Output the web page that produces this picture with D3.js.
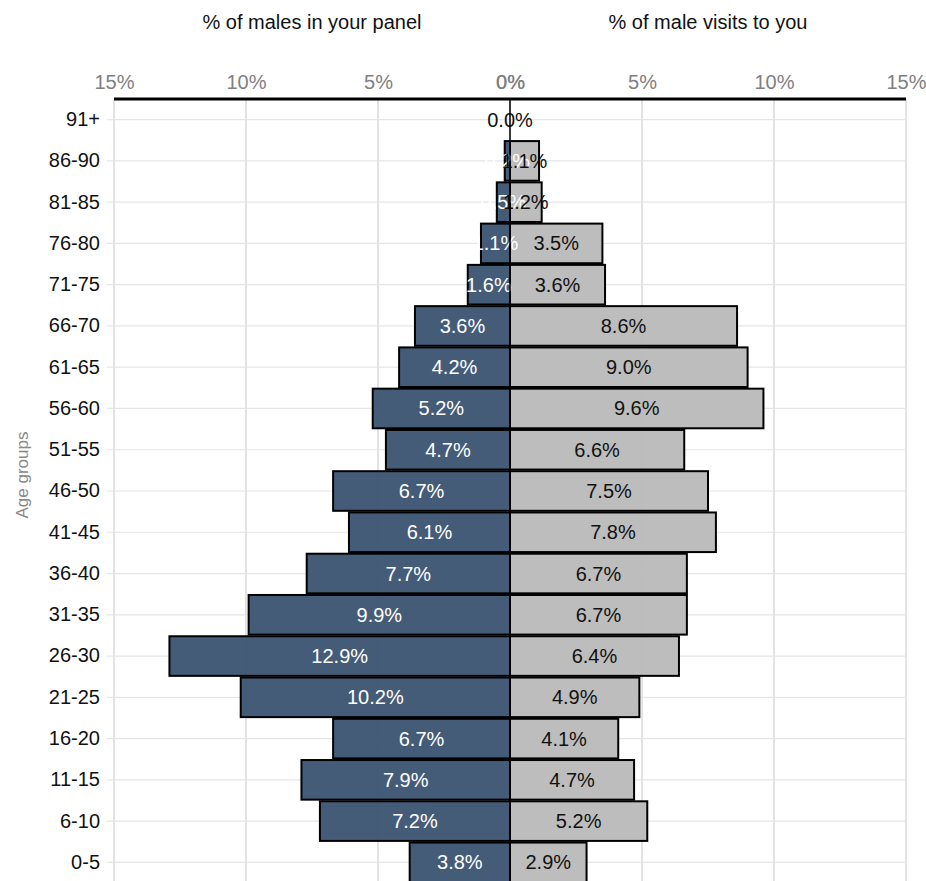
<!DOCTYPE html>
<html>
<head>
<meta charset="utf-8">
<script src="https://cdn.jsdelivr.net/npm/d3@7"></script>
<style>
  html, body { margin: 0; padding: 0; background: #fff; overflow: hidden; }
  svg { display: block; font-family: "Liberation Sans", Arial, sans-serif; }
</style>
</head>
<body>
<svg id="chart" width="926" height="881"></svg>
<script>
// Age groups, oldest first (top of the pyramid)
const ageGroups = ["91+", "86-90", "81-85", "76-80", "71-75", "66-70", "61-65", "56-60",
  "51-55", "46-50", "41-45", "36-40", "31-35", "26-30", "21-25", "16-20", "11-15", "6-10", "0-5"];
// % of males in the panel (drawn to the left)
const panelPct = [0.0, 0.2, 0.5, 1.1, 1.6, 3.6, 4.2, 5.2, 4.7, 6.7, 6.1, 7.7, 9.9, 12.9, 10.2, 6.7, 7.9, 7.2, 3.8];
// % of male visits (drawn to the right)
const visitPct = [0.0, 1.1, 1.2, 3.5, 3.6, 8.6, 9.0, 9.6, 6.6, 7.5, 7.8, 6.7, 6.7, 6.4, 4.9, 4.1, 4.7, 5.2, 2.9];
const leftTicks = [-15, -10, -5, 0];
const rightTicks = [0, 5, 10, 15];
const leftTitle = "% of males in your panel";
const rightTitle = "% of male visits to you";
const yTitle = "Age groups";

const svg = d3.select("#chart");
const plotLeft = 114, plotRight = 906, plotTop = 99, plotBottom = 883, viewBottom = 881;
const fontSize = 20;

const x = d3.scaleLinear().domain([-15, 15]).range([plotLeft, plotRight]);
const y = d3.scaleBand().domain(ageGroups).range([plotTop, plotBottom]).paddingInner(0.04).paddingOuter(0.02);

// vertical gridlines
svg.append("g").selectAll("line").data(leftTicks.concat(rightTicks.slice(1))).join("line")
  .attr("x1", d => x(d)).attr("x2", d => x(d))
  .attr("y1", plotTop).attr("y2", viewBottom)
  .attr("stroke", "#d0d0d0").attr("stroke-width", 1.2);

// horizontal gridlines at each age group
svg.append("g").selectAll("line").data(ageGroups).join("line")
  .attr("x1", plotLeft - 7).attr("x2", plotRight)
  .attr("y1", d => y(d) + y.bandwidth() / 2).attr("y2", d => y(d) + y.bandwidth() / 2)
  .attr("stroke", "#e6e6e6").attr("stroke-width", 1.2);

const rows = ageGroups.map((g, i) => ({ g, l: panelPct[i], r: visitPct[i] }));

// left bars (panel)
svg.append("g").selectAll("rect").data(rows).join("rect")
  .attr("x", d => x(-d.l)).attr("width", d => x(0) - x(-d.l))
  .attr("y", d => y(d.g)).attr("height", y.bandwidth())
  .attr("fill", "#3d5574").attr("fill-opacity", 0.96)
  .attr("stroke", "#000").attr("stroke-width", d => d.l > 0 ? 2 : 0);

// right bars (visits)
svg.append("g").selectAll("rect").data(rows).join("rect")
  .attr("x", x(0)).attr("width", d => x(d.r) - x(0))
  .attr("y", d => y(d.g)).attr("height", y.bandwidth())
  .attr("fill", "#bababa").attr("fill-opacity", 0.96)
  .attr("stroke", "#000").attr("stroke-width", d => d.r > 0 ? 2 : 0);

// value labels, centred in each bar
svg.append("g").selectAll("text").data(rows).join("text")
  .attr("x", d => (x(-d.l) + x(0)) / 2)
  .attr("y", d => y(d.g) + y.bandwidth() / 2)
  .attr("dy", "0.35em").attr("text-anchor", "middle")
  .attr("font-size", fontSize).attr("fill", "#fff")
  .text(d => d.l.toFixed(1) + "%");

svg.append("g").selectAll("text").data(rows).join("text")
  .attr("x", d => (x(d.r) + x(0)) / 2)
  .attr("y", d => y(d.g) + y.bandwidth() / 2)
  .attr("dy", "0.35em").attr("text-anchor", "middle")
  .attr("font-size", fontSize).attr("fill", "#111")
  .text(d => d.r.toFixed(1) + "%");

// centre line
svg.append("line")
  .attr("x1", x(0)).attr("x2", x(0)).attr("y1", plotTop).attr("y2", viewBottom)
  .attr("stroke", "#000").attr("stroke-width", 1.5);

// top axes, one for each half
function topAxis(ticks) {
  const g = svg.append("g").attr("transform", `translate(0,${plotTop})`)
    .call(d3.axisTop(x).tickValues(ticks).tickSize(0).tickPadding(10)
      .tickFormat(d => Math.abs(d) + "%"));
  g.select(".domain").remove();
  g.selectAll("text").attr("font-size", fontSize).attr("fill", "#808080")
    .attr("font-family", "'Liberation Sans', Arial, sans-serif");
}
topAxis(leftTicks);
topAxis(rightTicks);
svg.append("line")
  .attr("x1", plotLeft).attr("x2", plotRight).attr("y1", plotTop).attr("y2", plotTop)
  .attr("stroke", "#000").attr("stroke-width", 3);

// category axis
const yAxis = svg.append("g").attr("transform", `translate(${plotLeft},0)`)
  .call(d3.axisLeft(y).tickSize(0).tickPadding(14));
yAxis.select(".domain").remove();
yAxis.selectAll("text").attr("font-size", fontSize).attr("fill", "#111")
  .attr("font-family", "'Liberation Sans', Arial, sans-serif");

// titles
svg.append("text").attr("x", (x(-15) + x(0)) / 2).attr("y", 29)
  .attr("text-anchor", "middle").attr("font-size", fontSize).attr("fill", "#111").text(leftTitle);
svg.append("text").attr("x", (x(0) + x(15)) / 2).attr("y", 29)
  .attr("text-anchor", "middle").attr("font-size", fontSize).attr("fill", "#111").text(rightTitle);
svg.append("text").attr("transform", `translate(28,${(plotTop + viewBottom) / 2 - 15}) rotate(-90)`)
  .attr("text-anchor", "middle").attr("font-size", 17).attr("fill", "#888").text(yTitle);
</script>
</body>
</html>
